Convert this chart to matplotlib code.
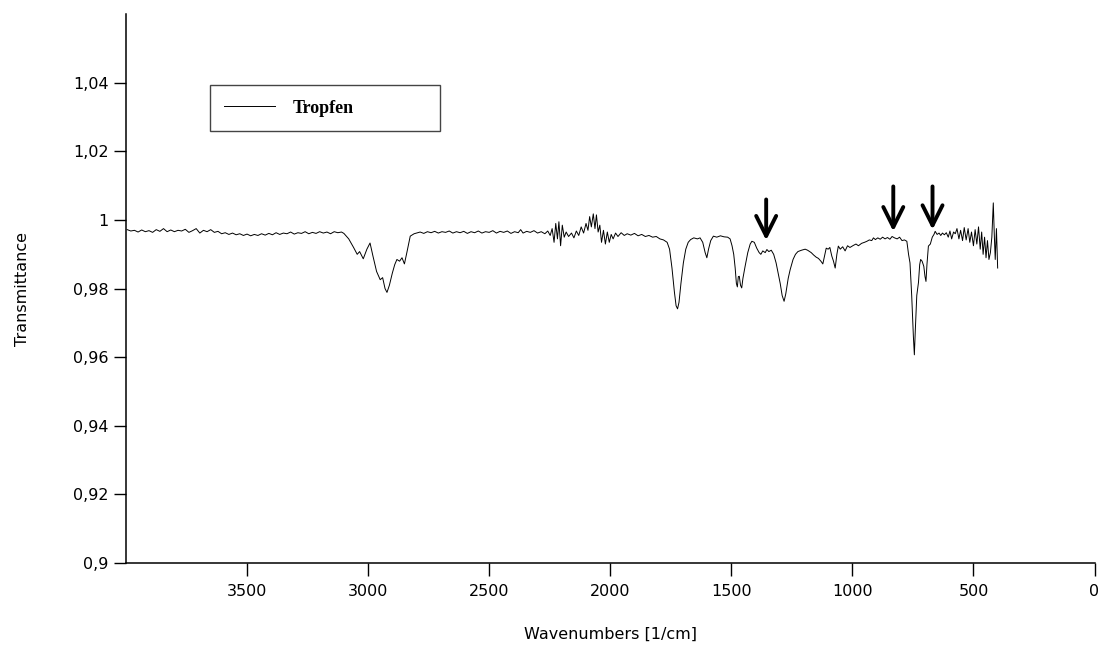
import matplotlib
matplotlib.use("Agg")
import matplotlib.pyplot as plt

# ---- data ----
wavenumber = [
    3995, 3980, 3965, 3950, 3935, 3920, 3905, 3890, 3875, 3860, 3845, 3830, 3815, 3800,
    3785, 3770, 3755, 3740, 3725, 3710, 3695, 3680, 3665, 3650, 3635, 3620, 3605, 3590,
    3575, 3560, 3545, 3530, 3515, 3500, 3485, 3470, 3455, 3440, 3425, 3410, 3395, 3380,
    3365, 3350, 3335, 3320, 3305, 3290, 3275, 3260, 3245, 3230, 3215, 3200, 3185, 3170,
    3155, 3140, 3125, 3110, 3100,
    3080, 3060, 3045, 3035, 3020, 3005, 2992, 2980, 2965, 2950, 2940, 2930, 2922, 2912,
    2900, 2890, 2881, 2870, 2860, 2850, 2840, 2826, 2810,
    2800, 2785, 2770, 2755, 2740, 2725, 2710, 2695, 2680, 2665, 2650, 2635, 2620, 2605,
    2590, 2575, 2560, 2545, 2530, 2515, 2500, 2485, 2470, 2455, 2440, 2425, 2410, 2395,
    2380, 2370, 2360, 2345, 2330, 2315, 2300, 2285, 2270, 2258, 2248, 2240, 2232, 2225,
    2218, 2212, 2205, 2198, 2190, 2182, 2172, 2160, 2150, 2140, 2130, 2120, 2110, 2100,
    2092, 2085, 2078, 2070, 2063, 2057, 2050, 2043, 2036, 2028, 2020, 2012, 2004, 1996,
    1988, 1978, 1968, 1955, 1942, 1930, 1915, 1900, 1885, 1870, 1855, 1840, 1825, 1810,
    1795, 1780, 1765, 1755, 1745, 1735, 1728, 1722, 1716, 1708, 1698, 1688, 1678, 1668,
    1655, 1640, 1629, 1618, 1608, 1601, 1594, 1585, 1574, 1560, 1545, 1530, 1515, 1505,
    1497, 1490, 1484, 1479, 1475, 1471, 1467, 1462, 1457, 1452, 1443, 1432, 1422, 1415,
    1405, 1395, 1385, 1378, 1370, 1360, 1353, 1345, 1335, 1325, 1315, 1305, 1298, 1290,
    1282, 1275, 1265, 1257, 1245, 1235, 1225, 1210, 1195, 1185, 1170, 1160, 1150, 1140,
    1130, 1122, 1115, 1108, 1100, 1093, 1085, 1078, 1071, 1064, 1058, 1050, 1040, 1030,
    1020, 1010, 996, 985, 975, 962, 950, 940, 930, 920, 913, 905, 895, 885,
    875, 865, 855, 845, 836, 826, 815, 805, 795, 785, 775, 768, 762, 755,
    748, 744, 740, 734, 727, 722, 718, 712, 705, 700, 696, 692, 686, 678,
    670, 663, 658, 650, 642, 635, 628, 620, 612, 604, 597, 590, 582, 575,
    568, 560, 553, 545, 538, 530, 522, 515, 508, 500, 493, 486, 479, 472,
    466, 460, 454, 448, 442, 436, 430, 424, 418, 414, 410, 405, 400,
]
transmittance = [
    0.9972, 0.9968, 0.9970, 0.9965, 0.9971, 0.9966, 0.9969, 0.9964, 0.9972, 0.9967, 0.9975, 0.9966, 0.9971, 0.9966,
    0.9970, 0.9968, 0.9973, 0.9964, 0.9969, 0.9975, 0.9962, 0.9970, 0.9966, 0.9972, 0.9964, 0.9967, 0.9960, 0.9963,
    0.9958, 0.9962, 0.9957, 0.9960, 0.9955, 0.9959, 0.9954, 0.9958, 0.9955, 0.9960, 0.9956, 0.9961, 0.9957, 0.9963,
    0.9958, 0.9962, 0.9960, 0.9965, 0.9959, 0.9963, 0.9961, 0.9966, 0.9960, 0.9964, 0.9961, 0.9966, 0.9962, 0.9965,
    0.9960, 0.9966, 0.9963, 0.9965, 0.9961,
    0.9945, 0.9920, 0.9900, 0.9908, 0.9887, 0.9915, 0.9933, 0.9895, 0.9850, 0.9826, 0.9832, 0.9800, 0.9789, 0.9810,
    0.9845, 0.9870, 0.9885, 0.9880, 0.9890, 0.9872, 0.9905, 0.9953, 0.9960,
    0.9962, 0.9965, 0.9961, 0.9966, 0.9963, 0.9967, 0.9962, 0.9966, 0.9964, 0.9968, 0.9962, 0.9966, 0.9963, 0.9967,
    0.9961, 0.9966, 0.9963, 0.9968, 0.9962, 0.9966, 0.9964, 0.9969, 0.9962, 0.9967, 0.9964, 0.9968, 0.9961, 0.9966,
    0.9963, 0.9972, 0.9962, 0.9967, 0.9964, 0.9969, 0.9962, 0.9966, 0.9960, 0.9968, 0.9955, 0.9975, 0.9935, 0.9990,
    0.9945, 0.9995, 0.9925, 0.9985, 0.9950, 0.9965, 0.9952, 0.9962, 0.9948, 0.9968, 0.9955, 0.9980, 0.9962, 0.9990,
    0.9970, 1.0010, 0.9980, 1.0018, 0.9975, 1.0015, 0.9965, 0.9985, 0.9935, 0.9970, 0.9930, 0.9965, 0.9935, 0.9958,
    0.9945, 0.9962, 0.9952, 0.9963, 0.9955, 0.9960, 0.9956, 0.9961, 0.9954, 0.9958, 0.9952, 0.9955, 0.9950, 0.9952,
    0.9945, 0.9942, 0.9935, 0.9915, 0.9860, 0.9790, 0.9750, 0.9741, 0.9760, 0.9815, 0.9875, 0.9915, 0.9935, 0.9943,
    0.9948, 0.9945, 0.9948, 0.9935, 0.9905, 0.9890, 0.9915, 0.9940, 0.9953, 0.9950, 0.9954, 0.9951, 0.9950, 0.9945,
    0.9925, 0.9900, 0.9860, 0.9815, 0.9805, 0.9835, 0.9836, 0.9810, 0.9802, 0.9830, 0.9865, 0.9905, 0.9930, 0.9938,
    0.9935, 0.9918, 0.9905, 0.9900, 0.9910, 0.9905, 0.9914, 0.9908, 0.9912, 0.9900, 0.9875, 0.9840, 0.9815, 0.9780,
    0.9763, 0.9785, 0.9830, 0.9855, 0.9885, 0.9900, 0.9908, 0.9912, 0.9915, 0.9912, 0.9905, 0.9898, 0.9892, 0.9888,
    0.9880, 0.9872, 0.9895, 0.9918, 0.9915, 0.9920, 0.9895, 0.9880, 0.9860, 0.9900, 0.9924, 0.9915, 0.9922, 0.9910,
    0.9925, 0.9920, 0.9926, 0.9930, 0.9925, 0.9932, 0.9935, 0.9938, 0.9942, 0.9940, 0.9948, 0.9943, 0.9948, 0.9944,
    0.9950, 0.9945, 0.9949, 0.9944, 0.9952, 0.9948, 0.9945, 0.9950, 0.9940, 0.9942, 0.9938, 0.9900, 0.9875, 0.9780,
    0.9660, 0.9607, 0.9680, 0.9780, 0.9818, 0.9870, 0.9885, 0.9880, 0.9865, 0.9835, 0.9821, 0.9870, 0.9924, 0.9930,
    0.9950, 0.9958, 0.9967, 0.9958, 0.9962, 0.9955, 0.9962, 0.9957, 0.9963, 0.9950, 0.9968, 0.9945, 0.9965, 0.9960,
    0.9975, 0.9945, 0.9970, 0.9940, 0.9978, 0.9942, 0.9975, 0.9935, 0.9965, 0.9925, 0.9972, 0.9930, 0.9980, 0.9915,
    0.9965, 0.9900, 0.9950, 0.9890, 0.9940, 0.9885, 0.9905, 0.9950, 1.0050, 0.9960, 0.9885, 0.9975, 0.9860,
]

series_name = "Tropfen"
x_ticks = [3500, 3000, 2500, 2000, 1500, 1000, 500, 0]
y_ticks = [0.90, 0.92, 0.94, 0.96, 0.98, 1.00, 1.02, 1.04]
y_tick_labels = ["0,9", "0,92", "0,94", "0,96", "0,98", "1", "1,02", "1,04"]

# marked bands (arrows): wavenumber, tail value, head value
arrow_wn = [1356, 831, 669]
arrow_top = [1.0060, 1.0098, 1.0098]
arrow_tip = [0.9941, 0.9967, 0.9972]

# ---- figure ----
plt.rcParams['font.family'] = ['DejaVu Sans']
fig = plt.figure(figsize=(11.04, 6.48), dpi=100)
ax = fig.add_axes([0.1141, 0.1312, 0.8773, 0.8468])

ax.plot(wavenumber, transmittance, color='black', lw=0.7, label=series_name)

ax.set_xlim(4000, 0)
ax.set_ylim(0.9, 1.06)
ax.set_xticks(x_ticks)
ax.set_xticklabels([str(t) for t in x_ticks])
ax.set_yticks(y_ticks)
ax.set_yticklabels(y_tick_labels)

for s in ['top', 'right']:
    ax.spines[s].set_visible(False)
for s in ['left', 'bottom']:
    ax.spines[s].set_linewidth(1.1)

ax.tick_params(axis='both', direction='out', length=9, width=1.0, labelsize=11.5, colors='black')
ax.tick_params(axis='x', pad=6)
ax.tick_params(axis='y', pad=3.5)

ax.set_xlabel("Wavenumbers [1/cm]", fontsize=11.5, labelpad=20)
ax.set_ylabel("Transmittance", fontsize=11.5, labelpad=31)

for wn, top, tip in zip(arrow_wn, arrow_top, arrow_tip):
    ax.annotate("", xy=(wn, tip), xytext=(wn, top),
                arrowprops=dict(arrowstyle='->,head_length=0.72,head_width=0.36',
                                lw=2.8, color='black', mutation_scale=20,
                                shrinkA=0, shrinkB=0))

leg = ax.legend(loc='upper left', bbox_to_anchor=(0.0867, 0.7887, 0.2375, 0.082),
                mode='expand', frameon=True, fancybox=False, framealpha=1,
                edgecolor='#444444', borderpad=0.8, handlelength=2.8,
                handletextpad=1.0, borderaxespad=0,
                prop={'family': 'Liberation Serif', 'weight': 'bold', 'size': 13})
leg.get_frame().set_linewidth(1.0)

fig.savefig("out.png", dpi=100)
